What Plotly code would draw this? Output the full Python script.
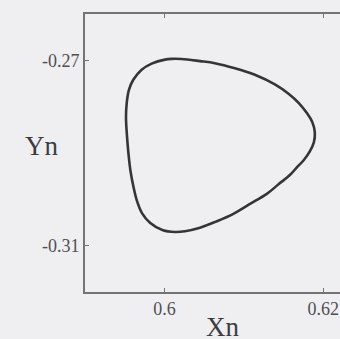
import plotly.graph_objects as go

# Closed orbit in the (Xn, Yn) phase plane, traced clockwise from the top
xn = [0.60006, 0.60091, 0.60216, 0.60447, 0.60635, 0.60887, 0.61138, 0.61390,
      0.61566, 0.61692, 0.61793, 0.61862, 0.61893, 0.61881, 0.61830, 0.61755,
      0.61667, 0.61579, 0.61440, 0.61289, 0.61076, 0.60862, 0.60648, 0.60447,
      0.60258, 0.60132, 0.59981, 0.59818, 0.59717, 0.59654, 0.59610, 0.59572,
      0.59547, 0.59528, 0.59516, 0.59525, 0.59553, 0.59608, 0.59713, 0.59839]
yn = [-0.26985, -0.26969, -0.26972, -0.27017, -0.27061, -0.27170, -0.27312, -0.27519,
      -0.27725, -0.27922, -0.28139, -0.28335, -0.28553, -0.28771, -0.28967, -0.29152,
      -0.29310, -0.29476, -0.29670, -0.29882, -0.30100, -0.30318, -0.30481, -0.30612,
      -0.30688, -0.30704, -0.30667, -0.30503, -0.30296, -0.30035, -0.29730, -0.29381,
      -0.29011, -0.28619, -0.28227, -0.27922, -0.27638, -0.27420, -0.27203, -0.27072]

x_ticks = [0.6, 0.62]
x_tick_text = ["0.6", "0.62"]
y_ticks = [-0.27, -0.31]
y_tick_text = ["-0.27", "-0.31"]

bg = "#efeef1"
axis_col = "#747476"
serif = "Liberation Serif"

fig = go.Figure()
fig.add_trace(go.Scatter(
    x=xn + xn[:1], y=yn + yn[:1], mode="lines",
    line=dict(color="#353538", width=2.6, shape="spline", smoothing=1.0),
    hoverinfo="skip", showlegend=False,
))

fig.update_layout(
    width=340, height=339,
    margin=dict(l=85, r=0, t=14, b=47),
    paper_bgcolor=bg, plot_bgcolor=bg,
    font=dict(family=serif, color="#4a4a4c"),
    showlegend=False,
)
fig.update_xaxes(
    range=[0.59, 0.6221], tickvals=x_ticks, ticktext=x_tick_text,
    showgrid=False, zeroline=False,
    showline=True, linecolor=axis_col, linewidth=1.6, mirror="ticks",
    ticks="inside", ticklen=4, tickcolor=axis_col, tickwidth=1.2,
    tickfont=dict(family=serif, size=18, color="#505052"),
)
fig.update_yaxes(
    range=[-0.32, -0.26], tickvals=y_ticks, ticktext=y_tick_text,
    showgrid=False, zeroline=False,
    showline=True, linecolor=axis_col, linewidth=1.6, mirror=False,
    ticks="inside", ticklen=4, tickcolor=axis_col, tickwidth=1.2,
    tickfont=dict(family=serif, size=18, color="#505052"),
)

fig.add_annotation(
    text="Xn", xref="paper", yref="paper", x=0.541, y=-0.066,
    xanchor="center", yanchor="top", showarrow=False,
    font=dict(family=serif, size=27, color="#3c3c3e"),
)
fig.add_annotation(
    text="Yn", xref="paper", yref="paper", x=-0.171, y=0.525,
    xanchor="center", yanchor="middle", showarrow=False,
    font=dict(family=serif, size=27, color="#3c3c3e"),
)

fig.write_html("out.html")
